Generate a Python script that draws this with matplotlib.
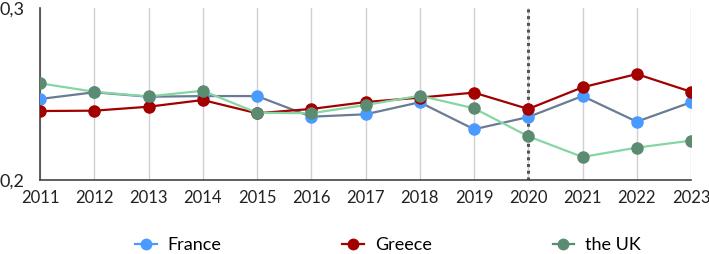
import numpy as np
import matplotlib.pyplot as plt
from matplotlib.lines import Line2D

plt.rcParams['font.family'] = ['Lato', 'DejaVu Sans']

# -----------------------------
# Dados
# -----------------------------
years = list(range(2011, 2024))
france = [0.2471, 0.2510, 0.2484, 0.2488, 0.2488, 0.2368, 0.2382, 0.2452,
          0.2295, 0.2366, 0.2488, 0.2339, 0.2452]
greece = [0.2401, 0.2403, 0.2426, 0.2465, 0.2388, 0.2413, 0.2453, 0.2479,
          0.2508, 0.2413, 0.2539, 0.2616, 0.2513]
uk = [0.2562, 0.2513, 0.2486, 0.2519, 0.2391, 0.2388, 0.2436, 0.2490,
      0.2417, 0.2254, 0.2134, 0.2188, 0.2229]
marker_year = 2020

fig = plt.figure(figsize=(7.09, 2.54), dpi=100)
ax = fig.add_axes([40 / 709, 1 - 180 / 254, 651 / 709, 172 / 254])

# series: (values, label, line colour, marker colour)
series = [
    (france, "France", "#6b7b93", "#4a9bff"),
    (greece, "Greece", "#a30000", "#a30000"),
    (uk, "the UK", "#86d6a4", "#5b8c72"),
]

ax.axvline(marker_year, color="#555555", linestyle=(0, (1, 1.2)), linewidth=2.2, zorder=2)

handles = []
for vals, label, lc, mc in series:
    ax.plot(years, vals, "-", color=lc, linewidth=1.6, marker="o", markersize=8,
            markerfacecolor=mc, markeredgecolor=mc, zorder=3)
    handles.append(Line2D([], [], color=mc, linewidth=1.6, marker="o", markersize=7.5,
                          label=label))

ax.set_xlim(2011, 2023)
ax.set_ylim(0.2, 0.3)
ax.set_xticks(years)
ax.set_xticklabels([str(y) for y in years], fontsize=12, color="#222222")
ax.set_yticks([0.2, 0.3])
ax.set_yticklabels(["0,2", "0,3"], fontsize=13, color="#222222")
for t in ax.get_yticklabels():
    t.set_ha("left")
ax.tick_params(length=0)
ax.tick_params(axis="x", pad=7)
ax.tick_params(axis="y", pad=29)

ax.grid(True, axis="x", color="#d0d0d0", linewidth=1)
ax.set_axisbelow(True)
for s in ["top", "right"]:
    ax.spines[s].set_visible(False)
for s in ["left", "bottom"]:
    ax.spines[s].set_color("#444444")
    ax.spines[s].set_linewidth(1.2)

fig.legend(handles=handles, loc="center", bbox_to_anchor=(0.547, 1 - 245 / 254), ncol=3,
           frameon=False, fontsize=13, handlelength=1.2, handletextpad=0.6,
           columnspacing=6.7)

fig.savefig("out.png", dpi=100)
